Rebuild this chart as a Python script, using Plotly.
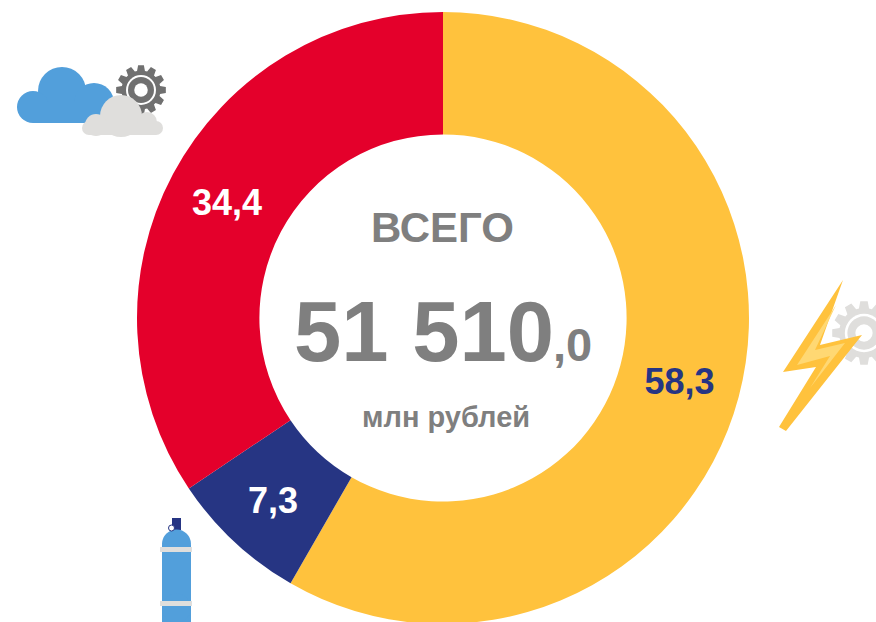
import math
import plotly.graph_objects as go

categories = ["Электроэнергия", "Газ", "Прочее"]
values = [58.3, 7.3, 34.4]
colors = ["#FFC23D", "#263583", "#E4002B"]
text_colors = ["#263583", "#FFFFFF", "#FFFFFF"]
total_title = "ВСЕГО"
total_main = "51 510"
total_decimal = ",0"
total_unit = "млн рублей"

W, H = 876, 640
GREY = "#7F7F7F"


def X(p):
    return p / W


def Y(p):
    return 1 - p / H


def poly(points):
    return "M " + " L ".join(f"{X(a):.5f},{Y(b):.5f}" for a, b in points) + " Z"


def shape_path(points, color):
    return dict(type="path", xref="paper", yref="paper", path=poly(points),
                fillcolor=color, line=dict(width=0), layer="above")


def circle(cx, cy, r, color, line=None, lw=0):
    return dict(type="circle", xref="paper", yref="paper",
                x0=X(cx - r), x1=X(cx + r), y0=Y(cy + r), y1=Y(cy - r),
                fillcolor=color, line=dict(width=lw, color=line or color), layer="above")


def rect(x0, y0, x1, y1, color):
    return dict(type="rect", xref="paper", yref="paper",
                x0=X(x0), x1=X(x1), y0=Y(y1), y1=Y(y0),
                fillcolor=color, line=dict(width=0), layer="above")


def gear(cx, cy, r_out, r_in, teeth, color):
    pts = []
    step = 2 * math.pi / teeth
    for i in range(teeth):
        a = i * step
        for da, r in [(-0.30, r_in), (-0.17, r_out), (0.17, r_out), (0.30, r_in)]:
            t = a + da * step * 1.3
            pts.append((cx + r * math.cos(t), cy + r * math.sin(t)))
    return shape_path(pts, color)


def gear_icon(cx, cy, r, color):
    return [gear(cx, cy, r, r * 0.78, 12, color),
            circle(cx, cy, r * 0.60, "#FFFFFF"),
            circle(cx, cy, r * 0.52, color),
            circle(cx, cy, r * 0.27, "#FFFFFF")]


shapes = []
BLUE = "#529FDB"
LG = "#DFDEDC"
# cloud + gear
shapes += gear_icon(141, 90, 25, "#707070")
shapes += [circle(62, 91, 24, BLUE), circle(33, 107, 16, BLUE), circle(94, 103, 20, BLUE),
           rect(33, 102, 110, 123, BLUE)]
shapes += [circle(121, 116, 21, LG), circle(96, 125, 11, LG), circle(147, 122, 10, LG),
           circle(156, 128, 7, LG), circle(89, 128, 7, LG), rect(89, 124, 156, 135, LG)]
# bolt + gear
shapes += gear_icon(864, 333, 32, "#DFDEDC")
shapes.append(shape_path([(843, 280), (783, 372), (816, 367), (779, 427), (786, 431),
                          (862, 335), (820, 345)], "#FFC23D"))
shapes.append(shape_path([(836, 305), (797, 365), (830, 356), (810, 388), (845, 343), (815, 350)], "#FFD873"))
# cylinder
shapes += [rect(172, 518, 181, 530, "#263583"), rect(162, 545, 191, 622, BLUE),
           circle(176.5, 544, 14.5, BLUE), circle(176.5, 608, 14.5, BLUE),
           rect(160, 547, 192, 552, LG), rect(160, 601, 192, 606, LG),
           circle(171.5, 528, 3, "#FFFFFF", "#263583", 1)]

fig = go.Figure(go.Pie(
    labels=categories,
    values=values,
    marker=dict(colors=colors, line=dict(width=0)),
    hole=0.6,
    sort=False,
    direction="clockwise",
    rotation=0,
    showlegend=False,
    texttemplate="%{value:.1f}",
    textposition="inside",
    insidetextorientation="horizontal",
    textfont=dict(family="Liberation Sans", size=36, color=text_colors, weight="bold"),
    domain=dict(x=[X(137), X(749)], y=[Y(624), Y(12)]),
))


def note(px, py, text, size, xanchor="center", yanchor="middle"):
    return dict(xref="paper", yref="paper", x=X(px), y=Y(py), text=text, showarrow=False,
                xanchor=xanchor, yanchor=yanchor,
                font=dict(family="Liberation Sans", size=size, color=GREY, weight="bold"))


fig.update_layout(
    width=W, height=H,
    margin=dict(l=0, r=0, t=0, b=0),
    paper_bgcolor="white",
    separators=", ",
    shapes=shapes,
    annotations=[
        note(442.5, 227, total_title, 42),
        note(556, 331, total_main, 85, xanchor="right"),
        note(551, 344, total_decimal, 47, xanchor="left"),
        note(446, 417, total_unit, 29),
    ],
)

fig.write_html("out.html", config={"displayModeBar": False},
               post_script="document.body.style.margin='0';document.body.style.overflow='hidden';")
